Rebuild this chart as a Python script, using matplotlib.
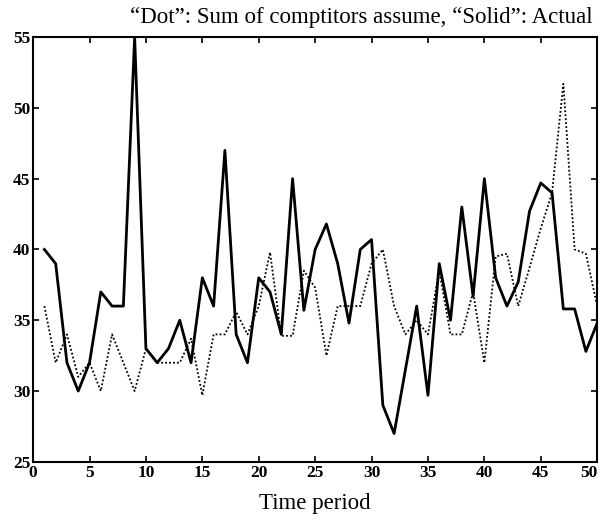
import matplotlib
matplotlib.use("Agg")
import matplotlib.pyplot as plt

# time periods and the two series
periods = list(range(1, 51))

actual = [40, 39, 32, 30, 32, 37, 36, 36, 55, 33,
          32, 33, 35, 32, 38, 36, 47, 34, 32, 38,
          37, 34, 45, 35.7, 40, 41.8, 39, 34.8, 40, 40.7,
          29, 27, 31.5, 36, 29.7, 39, 35, 43, 36.7, 45,
          38, 36, 37.7, 42.7, 44.7, 44, 35.8, 35.8, 32.8, 34.8]

competitors = [36, 32, 34, 31, 32, 30, 34, 32, 30, 33,
               32, 32, 32, 33.7, 29.7, 34, 34, 35.6, 34, 36,
               39.8, 33.9, 33.9, 38.5, 37.3, 32.5, 36, 36, 36, 39,
               40, 36, 34, 35, 34, 38.5, 34, 34, 37, 32,
               39.5, 39.7, 36, 38.7, 41.5, 44, 51.7, 40, 39.7, 36]

xticks = list(range(0, 51, 5))
yticks = list(range(25, 56, 5))

plt.rcParams['font.family'] = ['Liberation Serif', 'DejaVu Serif']

fig = plt.figure(figsize=(6.02, 5.23), dpi=100)
ax = fig.add_axes([0.055, 0.117, 0.937, 0.812])

ax.plot(periods, competitors, color='black', linestyle=(0, (1, 1.2)), linewidth=1.3)
ax.plot(periods, actual, color='black', linestyle='-', linewidth=2.0)

ax.set_xlim(0, 50)
ax.set_ylim(25, 55)
ax.set_xticks(xticks)
ax.set_yticks(yticks)
ax.tick_params(direction='in', top=True, right=True, length=4, width=1.2,
               labelsize=12.5, pad=2)
for lab in ax.get_xticklabels() + ax.get_yticklabels():
    lab.set_fontweight('bold')
# the last x label sits at the very right edge, keep it inside the figure
ax.get_xticklabels()[-1].set_horizontalalignment('right')
ax.get_xticklabels()[-1].set_x(50.2)
for sp in ax.spines.values():
    sp.set_linewidth(1.5)

ax.set_xlabel('Time period', fontsize=16.5, labelpad=9)
fig.text(0.60, 0.967, '\u201cDot\u201d: Sum of comptitors assume, \u201cSolid\u201d: Actual',
         ha='center', va='center', fontsize=16.5)

fig.savefig('out.png', dpi=100)
